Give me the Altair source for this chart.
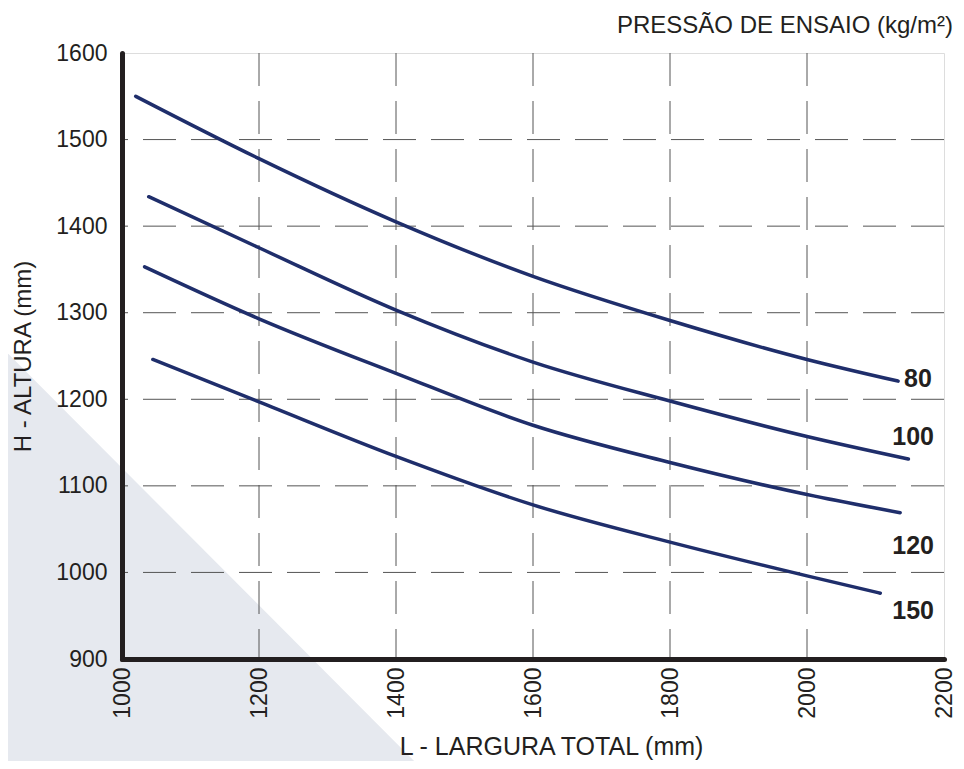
import altair as alt
import pandas as pd

# ---- data ----
pressures = ["80", "100", "120", "150"]
l_80 = [1020, 1200, 1400, 1600, 1800, 2000, 2133]
h_80 = [1550, 1478, 1405, 1342, 1291, 1246, 1221]
l_100 = [1039, 1200, 1400, 1600, 1800, 2000, 2148]
h_100 = [1434, 1375, 1303, 1243, 1198, 1157, 1131]
l_120 = [1033, 1200, 1400, 1600, 1800, 2000, 2136]
h_120 = [1353, 1293, 1230, 1170, 1127, 1090, 1069]
l_150 = [1045, 1200, 1400, 1600, 1800, 2000, 2107]
h_150 = [1246, 1197, 1134, 1078, 1035, 996, 976]

label_l = [2162, 2155, 2155, 2155]
label_h = [1223, 1157, 1031, 956]

x_ticks = [1000, 1200, 1400, 1600, 1800, 2000, 2200]
y_ticks = [900, 1000, 1100, 1200, 1300, 1400, 1500, 1600]

# decorative background wedge (in data units)
shade_l = [822, 1438]
shade_h = [1262, 773]
shade_base = [773, 773]

# ---- tables ----
rows = []
for p, xs, ys in zip(pressures, [l_80, l_100, l_120, l_150], [h_80, h_100, h_120, h_150]):
    for x, y in zip(xs, ys):
        rows.append({"p": p, "L": x, "H": y})
curves = pd.DataFrame(rows)
labels = pd.DataFrame({"p": pressures, "L": label_l, "H": label_h})
shade = pd.DataFrame({"L": shade_l, "H": shade_h, "H2": shade_base})
xgrid = pd.DataFrame({"L": x_ticks[1:-1]})
ygrid = pd.DataFrame({"H": y_ticks[1:-1]})

FONT = "Liberation Sans"
INK = "#231f20"
NAVY = "#1f2e6b"
GRID = "#555555"

xscale = alt.Scale(domain=[1000, 2200], nice=False, zero=False)
yscale = alt.Scale(domain=[900, 1600], nice=False, zero=False)

xaxis = alt.Axis(
    values=x_ticks, title="L - LARGURA TOTAL (mm)", grid=False, ticks=False, tickSize=0,
    labelAngle=-90, labelAlign="right", labelBaseline="middle", labelPadding=8,
    labelFlush=False, labelOverlap=False, labelFontSize=23, labelFont=FONT, labelColor=INK,
    domainWidth=5, domainColor=INK, domainCap="round",
    titleFont=FONT, titleFontSize=25, titleFontWeight="normal", titleColor=INK,
    titlePadding=16, titleX=429, titleAlign="center", format="d", zindex=1,
)
yaxis = alt.Axis(
    values=y_ticks, title="H - ALTURA (mm)", grid=False, ticks=False, tickSize=0,
    labelPadding=15, labelFlush=False, labelOverlap=False, labelFontSize=23, labelFont=FONT,
    labelColor=INK, domainWidth=5, domainColor=INK, domainCap="round",
    titleFont=FONT, titleFontSize=24, titleFontWeight="normal", titleColor=INK,
    titlePadding=20, format="d", zindex=1,
)

wedge = alt.Chart(shade).mark_area(color="#e6e9ef", clip=False, opacity=1).encode(
    x=alt.X("L:Q", scale=xscale, axis=xaxis),
    y=alt.Y("H:Q", scale=yscale, axis=yaxis),
    y2="H2:Q",
)

vgrid = alt.Chart(xgrid).mark_rule(color=GRID, strokeWidth=1, strokeDash=[33, 15]).encode(
    x=alt.X("L:Q", scale=xscale)
)
hgrid = alt.Chart(ygrid).mark_rule(color=GRID, strokeWidth=1, strokeDash=[33, 15]).encode(
    y=alt.Y("H:Q", scale=yscale)
)

lines = alt.Chart(curves).mark_line(
    color=NAVY, strokeWidth=3.5, interpolate="monotone", strokeCap="round"
).encode(
    x=alt.X("L:Q", scale=xscale),
    y=alt.Y("H:Q", scale=yscale),
    detail="p:N",
)

texts = alt.Chart(labels).mark_text(
    font=FONT, fontSize=25, fontWeight="bold", color=INK, align="center", baseline="middle"
).encode(
    x=alt.X("L:Q", scale=xscale),
    y=alt.Y("H:Q", scale=yscale),
    text="p:N",
)

chart = alt.layer(wedge, vgrid, hgrid, lines, texts).properties(
    width=822,
    height=606,
    autosize=alt.AutoSizeParams(type="none"),
    padding={"left": 114, "top": 45, "right": 12, "bottom": 102},
    title=alt.TitleParams(
        "PRESSÃO DE ENSAIO (kg/m²)", anchor="end", frame="group", font=FONT, fontSize=24,
        fontWeight="normal", color=INK, baseline="alphabetic", offset=8, dy=23, dx=9,
    ),
).configure_view(stroke="#6d6e71", strokeWidth=1, fill="white").configure(background="white")

chart.save("out.html", embed_options={"renderer": "svg", "actions": False})
